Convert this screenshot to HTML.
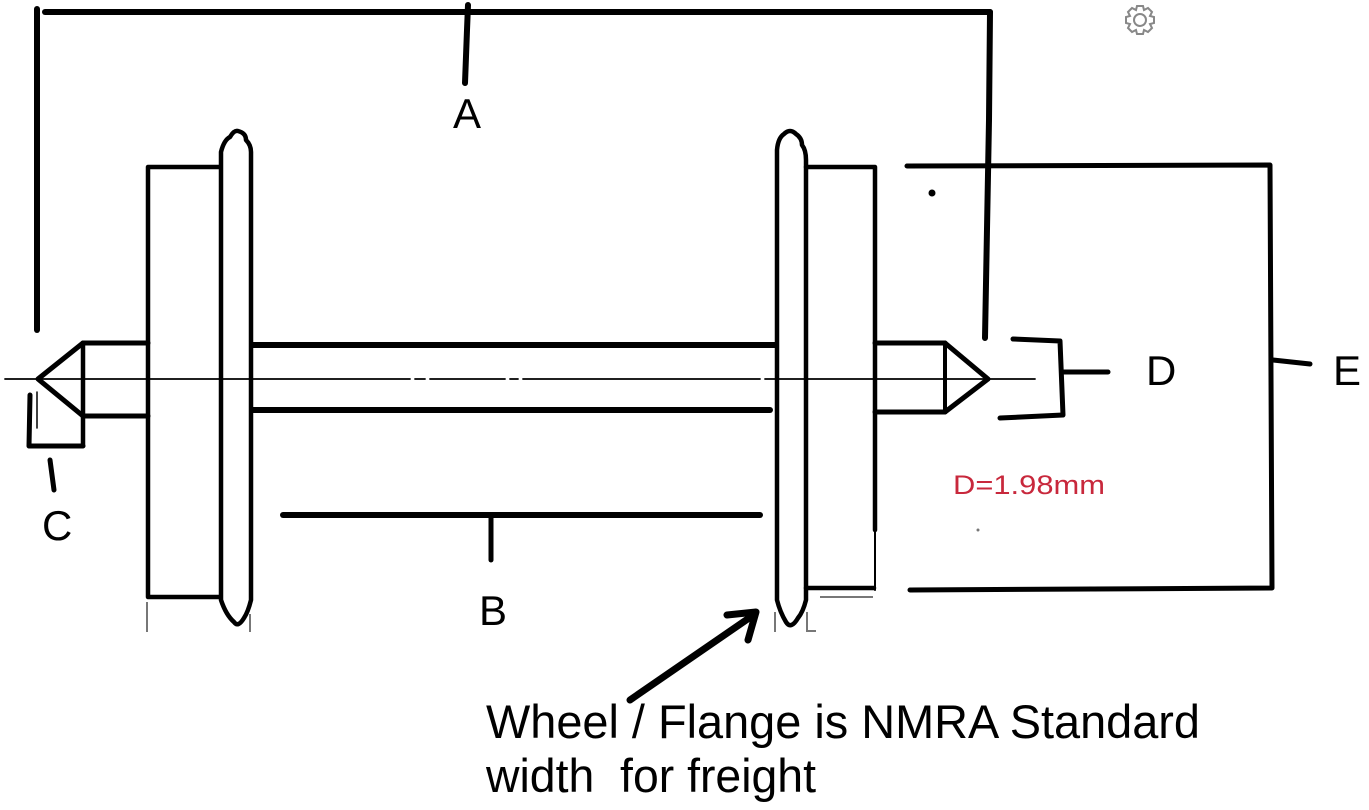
<!DOCTYPE html>
<html>
<head>
<meta charset="utf-8">
<style>
html,body{margin:0;padding:0;background:#fff;}
svg{display:block;}
text{font-family:"Liberation Sans",Arial,sans-serif;}
</style>
</head>
<body>
<svg width="1369" height="810" viewBox="0 0 1369 810" xmlns="http://www.w3.org/2000/svg">
<rect width="1369" height="810" fill="#fff"/>
<g stroke="#000" fill="none" stroke-linecap="round" stroke-linejoin="round">
  <!-- A bracket -->
  <path d="M37,9 L37,330" stroke-width="6"/>
  <path d="M45,12 L990,12" stroke-width="6"/>
  <path d="M990,12 L989,120 L985,338" stroke-width="6"/>
  <path d="M468,5 L467,30 L465,83" stroke-width="6"/>

  <!-- center line -->
  <path d="M5,379 L410,379 M415,379 L425,379 M430,379 L505,379 M510,379 L518,379 M523,379 L760,379 M765,379 L1035,379" stroke-width="1.8"/>

  <!-- left wheel hub -->
  <path d="M220,167 L148,167 L148,597 L220,597" stroke-width="4.5"/>
  <!-- left flange -->
  <path d="M221,597 L221,152 Q224,140 230,137 Q234,130 238,131 Q246,133 246,140 Q251,145 251,152 L251,600 Q248,612 244,618 Q238,628 234,622 Q226,615 221,600 Z" stroke-width="4.5"/>

  <!-- main axle -->
  <path d="M252,345 L776,345" stroke-width="6"/>
  <path d="M252,410 L770,410" stroke-width="6"/>

  <!-- left stub -->
  <path d="M83,343 L148,343" stroke-width="5"/>
  <path d="M83,416 L148,416" stroke-width="5"/>
  <path d="M83,343 L83,446" stroke-width="4.5"/>
  <path d="M83,343 L38,379 L83,416" stroke-width="5"/>
  <!-- C bracket -->
  <path d="M30,395 L29,446 L83,446" stroke-width="5"/>
  <path d="M37,392 L37,428" stroke-width="1.5"/>
  <path d="M50,460 L54,490" stroke-width="5"/>

  <!-- right wheel flange -->
  <path d="M777,598 L777,150 Q778,138 784,134 Q790,128 796,134 Q802,138 802,145 Q806,150 806,160 L806,600 Q803,612 798,618 Q791,630 786,622 Q780,612 777,600 Z" stroke-width="4.5"/>
  <!-- right hub -->
  <path d="M806,167 L875,167 L875,530" stroke-width="4.5"/>
  <path d="M875,530 L875,590" stroke-width="2"/>
  <path d="M806,588 L874,588" stroke-width="4.5"/>
  <!-- right stub -->
  <path d="M875,343 L945,343" stroke-width="5"/>
  <path d="M875,412 L945,412" stroke-width="5"/>
  <path d="M945,343 L945,412" stroke-width="4"/>
  <path d="M945,343 L988,379 L945,412" stroke-width="5"/>

  <!-- D bracket -->
  <path d="M1013,339 L1060,341 L1063,415 L1000,418" stroke-width="5"/>
  <path d="M1064,372 L1108,372" stroke-width="5"/>

  <!-- E bracket -->
  <path d="M907,166 L1270,165 L1272,588 L910,590" stroke-width="5"/>
  <path d="M1273,360 L1310,364" stroke-width="5"/>

  <!-- B -->
  <path d="M283,515 L760,515" stroke-width="6"/>
  <path d="M491,515 L491,560" stroke-width="5"/>

  <!-- arrow -->
  <path d="M630,700 L752,616" stroke-width="7"/>
  <path d="M727,615 L756,612 L748,640" stroke-width="7"/>
</g>
<!-- dots -->
<circle cx="932" cy="193" r="3.5" fill="#000"/>
<circle cx="978" cy="530" r="1.5" fill="#777"/>
<!-- gray thin marks -->
<g stroke="#777" stroke-width="2" fill="none">
  <path d="M147,602 L147,632"/>
  <path d="M250,614 L250,632"/>
  <path d="M775,612 L775,632"/>
  <path d="M807,612 L807,631 L816,631"/>
  <path d="M820,597 L873,597"/>
</g>
<!-- gear icon -->
<g transform="translate(1140,20)" fill="none" stroke="#888" stroke-width="2">
  <circle r="6"/>
  <path d="M-3,-14 L3,-14 L4,-10 L8,-12 L12,-8 L10,-4 L14,-3 L14,3 L10,4 L12,8 L8,12 L4,10 L3,14 L-3,14 L-4,10 L-8,12 L-12,8 L-10,4 L-14,3 L-14,-3 L-10,-4 L-12,-8 L-8,-12 L-4,-10 Z"/>
</g>
<!-- labels -->
<g fill="#000" font-size="42">
  <text x="453" y="128">A</text>
  <text x="479" y="625">B</text>
  <text x="42" y="540">C</text>
  <text x="1146" y="385">D</text>
  <text x="1333" y="385">E</text>
</g>
<text x="953" y="494" font-size="27" fill="#c8283c" textLength="152" lengthAdjust="spacingAndGlyphs">D=1.98mm</text>
<text x="486" y="738" font-size="47" fill="#000" textLength="714" lengthAdjust="spacingAndGlyphs">Wheel / Flange is NMRA Standard</text>
<text x="486" y="792" font-size="47" fill="#000" xml:space="preserve" textLength="330" lengthAdjust="spacingAndGlyphs">width  for freight</text>
</svg>
</body>
</html>
